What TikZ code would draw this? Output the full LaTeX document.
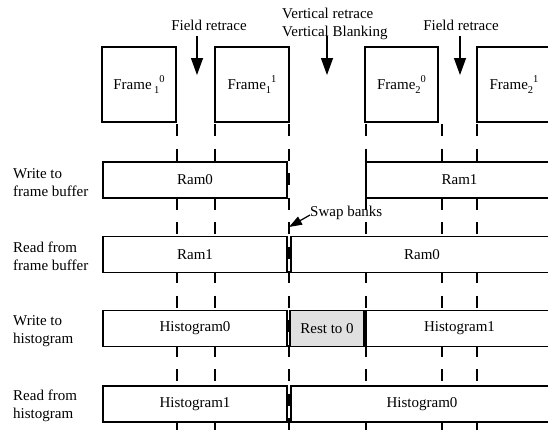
\documentclass[tikz,border=0pt]{standalone}
\usepackage{fontspec}
\setmainfont{Liberation Serif}
\usetikzlibrary{arrows.meta}
% Frame label with staggered field index (subscript) and parity (superscript)
\newcommand\frm[3]{Frame#1\raisebox{-0.28em}{\fontsize{10.5}{10.5}\selectfont #2}\raisebox{0.5em}{\fontsize{10.5}{10.5}\selectfont #3}}
\begin{document}
\begin{tikzpicture}[x=1pt,y=-1pt,
  every node/.style={font=\fontsize{15}{18}\selectfont},
  framebox/.style={draw, line width=1.4pt, fill=white, minimum width=74pt, minimum height=75pt, inner sep=0pt},
  slot/.style={draw, line width=1.3pt, fill=white, minimum height=36pt, inner sep=0pt},
  reset/.style={slot, fill=black!12},
  guide/.style={line width=1.3pt, dash pattern=on 12pt off 12.5pt},
  marker/.style={line width=1.3pt, -{Triangle[length=17pt,width=12pt]}},
  rowlabel/.style={anchor=west, align=left, inner sep=0pt},
  plain/.style={inner sep=0pt},
]
\useasboundingbox (0,0) rectangle (548,432);
\clip (0,0) rectangle (548,432);

% timing guides, drawn first so the slots cover them
\foreach \x/\n in {177/a,215/b,289/c,366/d,442/e,477/f}{
  \coordinate (g\n top) at (\x,124);
  \coordinate (g\n bot) at (\x,440);
  \draw[guide] (g\n top) -- (g\n bot);
}

% video frames
\node[framebox] (f10) at (139,84.5) {\frm{\,}{1}{0}};
\node[framebox] (f11) at (252,84.5) {\frm{}{1}{1}};
\node[framebox, minimum width=73pt] (f20) at (401.5,84.5) {\frm{}{2}{0}};
\node[framebox] (f21) at (514,84.5) {\frm{}{2}{1}};

% retrace markers
\node[plain] (fr1) at (209,25) {Field retrace};
\coordinate (fr1top) at (197,36);
\coordinate (fr1tip) at (197,75);
\draw[marker] (fr1top) -- (fr1tip);

\node[plain, anchor=west, align=left] (vr) at (282,24) {Vertical retrace\\Vertical Blanking};
\coordinate (vrtop) at (327,36);
\coordinate (vrtip) at (327,75);
\draw[marker] (vrtop) -- (vrtip);

\node[plain] (fr2) at (461,25) {Field retrace};
\coordinate (fr2top) at (460,36);
\coordinate (fr2tip) at (460,75);
\draw[marker] (fr2top) -- (fr2tip);

% row labels
\node[rowlabel] (l1) at (13,183) {Write to\\frame buffer};
\node[rowlabel] (l2) at (13,256) {Read from\\frame buffer};
\node[rowlabel] (l3) at (13,331) {Write to\\histogram};
\node[rowlabel] (l4) at (13,406) {Read from\\histogram};

% write to frame buffer
\node[slot, minimum width=184pt] (w0) at (195,180) {Ram0};
\node[slot, minimum width=187pt] (w1) at (459.5,180) {Ram1};

% read from frame buffer
\node[slot, minimum width=184pt] (r1) at (195,254.5) {Ram1};
\node[slot, minimum width=262pt] (r0) at (422,254.5) {Ram0};

% write to histogram
\node[slot, minimum width=184pt] (h0) at (195,328.5) {Histogram0};
\node[reset, minimum width=74pt] (rz) at (327,328.5) {Rest to 0};
\node[slot, minimum width=187pt] (h1) at (459.5,328.5) {Histogram1};

\node[slot, minimum width=184pt] (q1) at (195,404) {Histogram1};
\node[slot, minimum width=262pt] (q0) at (422,404) {Histogram0};

% bank swap
\node[plain, anchor=west] (swap) at (310,213) {Swap banks};
\coordinate (swaptip) at (289,227);
\draw[line width=1.2pt, -{Triangle[length=13pt,width=9pt]}] ([yshift=-2pt]swap.west) -- (swaptip);
\end{tikzpicture}
\end{document}
